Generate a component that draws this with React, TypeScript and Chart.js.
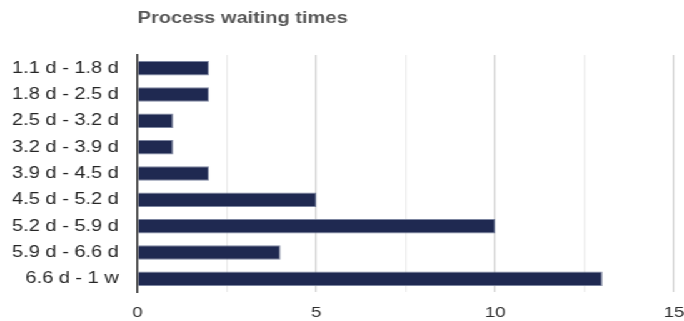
import React, { useEffect, useRef } from "react";
import { Chart, registerables } from "chart.js";

Chart.register(...registerables);

const TITLE = "Process waiting times";
const categories = [
  "1.1 d - 1.8 d",
  "1.8 d - 2.5 d",
  "2.5 d - 3.2 d",
  "3.2 d - 3.9 d",
  "3.9 d - 4.5 d",
  "4.5 d - 5.2 d",
  "5.2 d - 5.9 d",
  "5.9 d - 6.6 d",
  "6.6 d - 1 w",
];
const counts = [2, 2, 1, 1, 2, 5, 10, 4, 13];
const xMin = 0;
const xMax = 15;
const xStep = 2.5;
const labelEvery = 5;

const FONT = "'Liberation Sans', Arial, sans-serif";
const STRETCH = 684 / 547;

const titlePlugin = {
  id: "leftTitle",
  afterDraw(chart: any) {
    const { ctx, chartArea } = chart;
    ctx.save();
    ctx.font = `bold 16px ${FONT}`;
    ctx.fillStyle = "#575757";
    ctx.textAlign = "left";
    ctx.textBaseline = "alphabetic";
    ctx.fillText(TITLE, chartArea.left, 23);
    ctx.restore();
  },
};

export default function App() {
  const ref = useRef<HTMLCanvasElement | null>(null);
  useEffect(() => {
    if (!ref.current) return;
    const chart = new Chart(ref.current, {
      type: "bar",
      data: {
        labels: categories,
        datasets: [
          {
            data: counts,
            backgroundColor: "#1f2951",
            borderColor: "rgba(110,120,150,0.9)",
            borderWidth: 1,
            barPercentage: 0.55,
            categoryPercentage: 1,
          },
        ],
      },
      options: {
        indexAxis: "y",
        animation: false,
        responsive: true,
        maintainAspectRatio: false,
        layout: { padding: { top: 55, right: 8, left: 0, bottom: 0 } },
        plugins: {
          legend: { display: false },
          title: { display: false },
          tooltip: { enabled: false },
        },
        scales: {
          x: {
            min: xMin,
            max: xMax,
            afterFit(scale: any) {
              scale.height = 29;
              scale.paddingLeft = 0;
              scale.paddingRight = 0;
            },
            ticks: {
              stepSize: xStep,
              autoSkip: false,
              maxRotation: 0,
              padding: 12,
              color: "#2e2e2e",
              font: { family: FONT, size: 15 },
              callback(v: any) {
                const n = Number(v);
                return n % labelEvery === 0 ? String(n) : "";
              },
            },
            grid: {
              drawTicks: false,
              lineWidth: 1.2,
              color(c: any) {
                const v = c.tick ? c.tick.value : 0;
                if (v === 0) return "rgba(0,0,0,0)";
                return v % labelEvery === 0 ? "#cfcfcf" : "#ebebeb";
              },
            },
            border: { display: false },
          },
          y: {
            afterFit(scale: any) {
              scale.width = 110;
              scale.paddingTop = 0;
              scale.paddingBottom = 0;
            },
            ticks: {
              padding: 15,
              color: "#262626",
              font: { family: FONT, size: 16 },
            },
            grid: { display: false, drawTicks: false },
            border: { display: true, color: "#3a3a3a", width: 1.5 },
          },
        },
      },
      plugins: [titlePlugin],
    });
    return () => chart.destroy();
  }, []);

  return (
    <div
      style={{
        position: "fixed",
        left: 0,
        top: 0,
        width: 547,
        height: 321,
        transform: `scaleX(${STRETCH})`,
        transformOrigin: "0 0",
        background: "#fff",
      }}
    >
      <canvas ref={ref} />
    </div>
  );
}
